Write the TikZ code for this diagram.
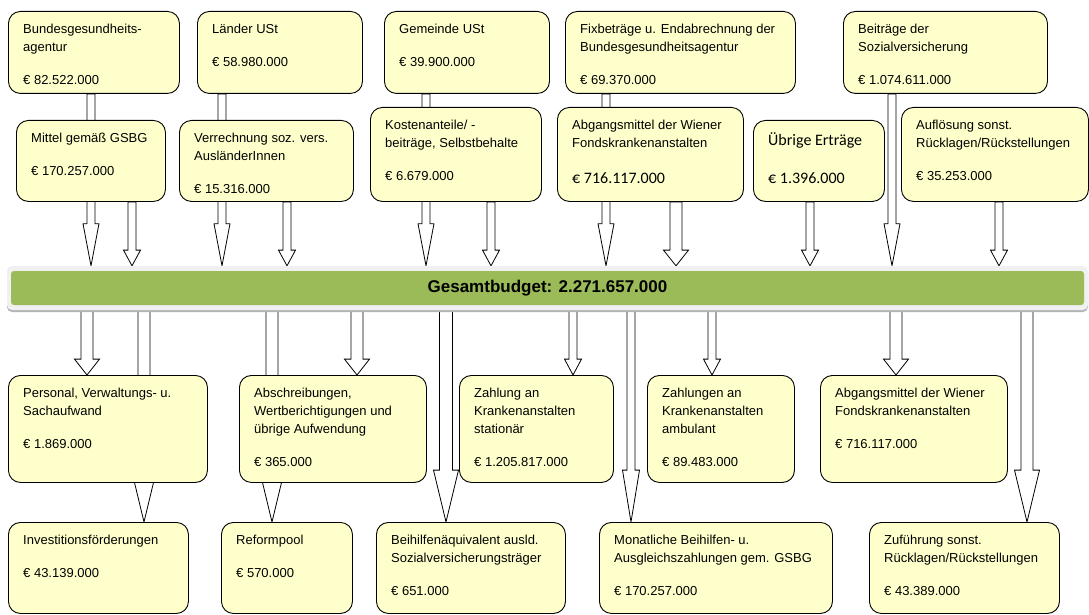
\documentclass[tikz,border=0pt]{standalone}
\usepackage{fontspec}
\setmainfont{Liberation Sans}
\newfontfamily\carlito{Carlito}
\usetikzlibrary{calc,shadows}

\definecolor{boxfill}{HTML}{FFFFCC}
\definecolor{bargreen}{HTML}{9BBB59}
\definecolor{barrim}{HTML}{F0F0F0}
\definecolor{barshade}{HTML}{B4B4B4}

\pgfdeclarelayer{back}
\pgfsetlayers{back,main}

\tikzset{
  panelbox/.style={draw=black, fill=boxfill, line width=0.9pt, rounded corners=12pt,
                   inner sep=0pt, anchor=north west},
  paneltext/.style={anchor=north west, inner sep=0pt, align=left,
                    font=\fontsize{13}{18}\selectfont},
  flowarrow/.style={draw=black, fill=white, line width=0.8pt, line join=miter},
  barframe/.style={minimum width=1081, minimum height=44, inner sep=0pt,
                   fill=barrim, rounded corners=5pt,
                   drop shadow={shadow xshift=0pt, shadow yshift=-2pt, fill=barshade, opacity=1}},
  barlabel/.style={minimum width=1073, minimum height=34, inner sep=0pt,
                   fill=bargreen, rounded corners=3pt,
                   font=\fontsize{17}{20}\selectfont\bfseries},
}

% \panel[text options]{name}{x1}{y1}{x2}{y2}{text}
\newcommand\panel[7][]{%
  \node[panelbox, minimum width={#5-#3}, minimum height={#6-#4}] (#2) at (#3,#4) {};
  \node[paneltext,#1] (#2-text) at ([shift={(15,9)}]#2.north west) {\rule{0pt}{13pt}#7};
}

% \flow{x}{source}{target}{shaft half width}{head half width}
\newcommand\flow[5]{%
  \draw[flowarrow] let \p1=(#2.south), \p2=(#3.north), \n1={0.245*((\y1)-(\y2))} in
    (#1pt-#4pt,\y1) -- (#1pt-#4pt,\y2+\n1) -- (#1pt-#5pt,\y2+\n1) -- (#1pt,\y2)
    -- (#1pt+#5pt,\y2+\n1) -- (#1pt+#4pt,\y2+\n1) -- (#1pt+#4pt,\y1) -- cycle;
}

\begin{document}
\begin{tikzpicture}[x=1pt, y=-1pt]
\useasboundingbox (0,0) rectangle (1089,615);

% sources
\panel{b1}{8}{11}{179}{93}{Bundesgesundheits-\\agentur\\[15pt]€ 82.522.000}
\panel{b2}{197}{11}{362}{93}{Länder USt\\[15pt]€ 58.980.000}
\panel{b3}{384}{11}{549}{93}{Gemeinde USt\\[15pt]€ 39.900.000}
\panel{b4}{565}{11}{795}{93}{Fixbeträge u. Endabrechnung der\\Bundesgesundheitsagentur\\[15pt]€ 69.370.000}
\panel{b5}{843}{11}{1047}{93}{Beiträge der\\Sozialversicherung\\[15pt]€ 1.074.611.000}

\panel{m1}{16}{120}{165}{201}{Mittel gemäß GSBG\\[15pt]€ 170.257.000}
\panel{m2}{179}{120}{353}{201}{Verrechnung soz. vers.\\AusländerInnen\\[15pt]€ 15.316.000}
\panel{m3}{370}{107}{541}{201}{Kostenanteile/ -\\beiträge, Selbstbehalte\\[15pt]€ 6.679.000}
\panel{m4}{557}{107}{743}{201}{Abgangsmittel der Wiener\\Fondskrankenanstalten\\[18pt]{\carlito\fontsize{16}{18}\selectfont € 716.117.000}}
\panel[font={\carlito\fontsize{16}{18}\selectfont}, yshift=-3pt]{m5}{753}{120}{884}{201}{Übrige Erträge\\[20pt]€ 1.396.000}
\panel{m6}{901}{107}{1088}{201}{Auflösung sonst.\\Rücklagen/Rückstellungen\\[15pt]€ 35.253.000}

% total budget
\node[barframe] (bar) at (547.5,288) {};
\node[barlabel] (total) at (bar.center) {Gesamtbudget: 2.271.657.000};

% uses
\panel{r1a}{8}{375}{207}{482}{Personal, Verwaltungs- u.\\Sachaufwand\\[15pt]€ 1.869.000}
\panel{r1b}{239}{375}{426}{482}{Abschreibungen,\\Wertberichtigungen und\\übrige Aufwendung\\[15pt]€ 365.000}
\panel{r1c}{459}{375}{613}{482}{Zahlung an\\Krankenanstalten\\stationär\\[15pt]€ 1.205.817.000}
\panel{r1d}{647}{375}{794}{482}{Zahlungen an\\Krankenanstalten\\ambulant\\[15pt]€ 89.483.000}
\panel{r1e}{820}{375}{1007}{482}{Abgangsmittel der Wiener\\Fondskrankenanstalten\\[15pt]€ 716.117.000}

\panel{r2a}{8}{522}{188}{613}{Investitionsförderungen\\[15pt]€ 43.139.000}
\panel{r2b}{221}{522}{352}{613}{Reformpool\\[15pt]€ 570.000}
\panel{r2c}{376}{522}{565}{613}{Beihilfenäquivalent ausld.\\Sozialversicherungsträger\\[15pt]€ 651.000}
\panel{r2d}{599}{522}{832}{613}{Monatliche Beihilfen- u.\\Ausgleichszahlungen gem. GSBG\\[15pt]€ 170.257.000}
\panel{r2e}{869}{522}{1059}{613}{Zuführung sonst.\\Rücklagen/Rückstellungen\\[15pt]€ 43.389.000}

\begin{pgfonlayer}{back}
  % inflows
  \flow{91}{b1}{bar}{4}{8}
  \flow{132}{m1}{bar}{4}{8.5}
  \flow{222}{b2}{bar}{4}{8}
  \flow{287}{m2}{bar}{4}{8.5}
  \flow{426}{b3}{bar}{4}{8}
  \flow{491}{m3}{bar}{4}{8.5}
  \flow{606}{b4}{bar}{4}{8}
  \flow{676}{m4}{bar}{6}{12.5}
  \flow{810}{m5}{bar}{4}{8.5}
  \flow{892}{b5}{bar}{4}{8}
  \flow{999}{m6}{bar}{4}{8.5}
  % outflows
  \flow{87}{bar}{r1a}{6}{12.5}
  \flow{144}{bar}{r2a}{6}{12.5}
  \flow{272}{bar}{r2b}{6}{12.5}
  \flow{357}{bar}{r1b}{6}{12.5}
  \flow{446}{bar}{r2c}{6.5}{12.5}
  \flow{573}{bar}{r1c}{4}{8.5}
  \flow{631}{bar}{r2d}{4}{8.5}
  \flow{712}{bar}{r1d}{4}{8.5}
  \flow{896}{bar}{r1e}{6}{12.5}
  \flow{1027}{bar}{r2e}{6}{12.5}
\end{pgfonlayer}
\end{tikzpicture}
\end{document}
